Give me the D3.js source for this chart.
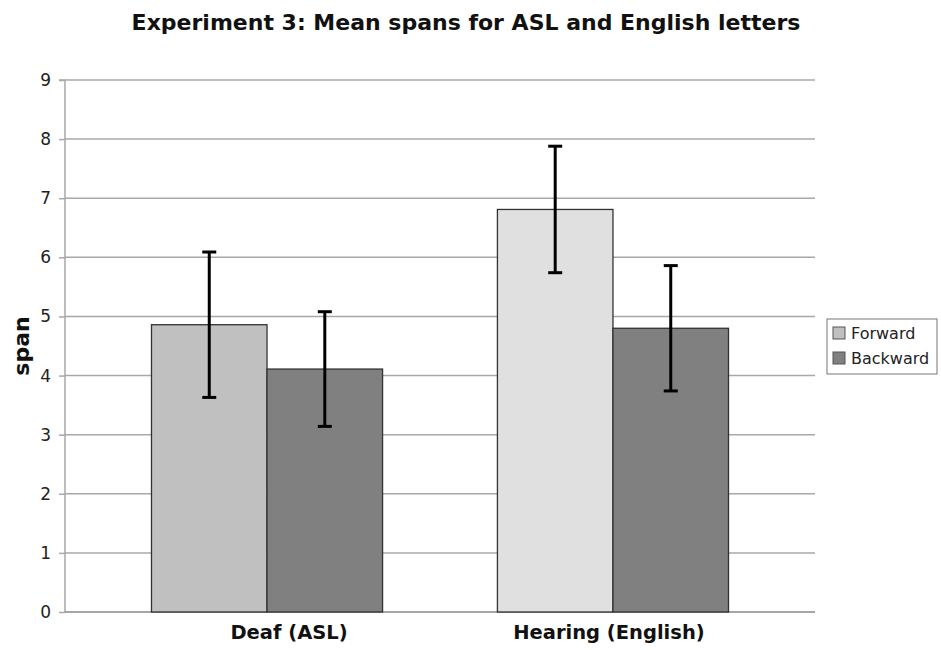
<!DOCTYPE html>
<html><head><meta charset="utf-8">
<script src="https://cdn.jsdelivr.net/npm/d3@7"></script>
<style>body{margin:0;background:#fff}svg{display:block}text{font-family:"DejaVu Sans",Verdana,sans-serif}</style>
</head><body><svg id="c" width="941" height="650"></svg>
<script>
const categories = ["Deaf (ASL)", "Hearing (English)"];
const seriesNames = ["Forward", "Backward"];
const forwardMeans = [4.86, 6.81];
const backwardMeans = [4.11, 4.80];
const forwardErr = [1.23, 1.07];
const backwardErr = [0.97, 1.06];
const yTicks = [0,1,2,3,4,5,6,7,8,9];
const barColors = [["#c0c0c0", "#808080"], ["#e0e0e0", "#808080"]];
const legendColors = ["#c0c0c0", "#808080"];

const svg = d3.select("#c");
const L = 65, R = 815, T = 80, B = 612;
const x = d3.scaleBand().domain(categories).range([L, R]).paddingInner(0.332).paddingOuter(0.25);
const xs = d3.scaleBand().domain(seriesNames).range([0, x.bandwidth()]);
const y = d3.scaleLinear().domain([0, 9]).range([B, T]);

// gridlines
svg.append("g").selectAll("line").data(yTicks.filter(d => d > 0)).join("line")
  .attr("x1", L).attr("x2", R).attr("y1", d => y(d)).attr("y2", d => y(d))
  .attr("stroke", "#a8a8a8").attr("stroke-width", 1.5);

// y axis
const ya = svg.append("g").attr("transform", `translate(${L},0)`)
  .call(d3.axisLeft(y).tickValues(yTicks).tickSize(6).tickPadding(8));
ya.select(".domain").attr("stroke", "#a8a8a8").attr("stroke-width", 1.5).attr("d", `M-6,${T}H0V${B}`);
ya.selectAll(".tick line").attr("stroke", "#a8a8a8").attr("stroke-width", 1.5);
ya.selectAll(".tick text").attr("font-size", 17).attr("fill", "#222").style("font-family", "DejaVu Sans, Verdana, sans-serif");

// baseline
svg.append("line").attr("x1", L).attr("x2", R).attr("y1", y(0)).attr("y2", y(0))
  .attr("stroke", "#888").attr("stroke-width", 1.5);

const rows = categories.map((c, i) => ({ c, i, vals: [
  { s: seriesNames[0], v: forwardMeans[i], e: forwardErr[i], col: barColors[i][0] },
  { s: seriesNames[1], v: backwardMeans[i], e: backwardErr[i], col: barColors[i][1] }
]}));

const g = svg.append("g").selectAll("g").data(rows).join("g")
  .attr("transform", d => `translate(${x(d.c)},0)`);
g.selectAll("rect").data(d => d.vals).join("rect")
  .attr("x", d => xs(d.s)).attr("width", xs.bandwidth())
  .attr("y", d => y(d.v)).attr("height", d => y(0) - y(d.v))
  .attr("fill", d => d.col).attr("stroke", "#333").attr("stroke-width", 1.3);

const eb = g.selectAll("g.eb").data(d => d.vals).join("g").attr("class", "eb")
  .attr("transform", d => `translate(${xs(d.s) + xs.bandwidth() / 2},0)`);
eb.append("line").attr("y1", d => y(d.v + d.e)).attr("y2", d => y(d.v - d.e))
  .attr("stroke", "#000").attr("stroke-width", 3);
eb.append("line").attr("x1", -7).attr("x2", 7).attr("y1", d => y(d.v + d.e)).attr("y2", d => y(d.v + d.e))
  .attr("stroke", "#000").attr("stroke-width", 3);
eb.append("line").attr("x1", -7).attr("x2", 7).attr("y1", d => y(d.v - d.e)).attr("y2", d => y(d.v - d.e))
  .attr("stroke", "#000").attr("stroke-width", 3);

// category labels
const labelShift = [22, -4];
svg.append("g").selectAll("text").data(categories).join("text")
  .attr("x", (d, i) => x(d) + x.bandwidth() / 2 + labelShift[i]).attr("y", 639)
  .attr("text-anchor", "middle").attr("font-size", 19.5).attr("font-weight", "bold").attr("fill", "#111")
  .text(d => d);

// title
svg.append("text").attr("x", 466).attr("y", 30).attr("text-anchor", "middle")
  .attr("font-size", 22).attr("font-weight", "bold").attr("fill", "#111")
  .text("Experiment 3: Mean spans for ASL and English letters");

// y label
svg.append("text").attr("transform", "translate(29,346) rotate(-90)").attr("text-anchor", "middle")
  .attr("font-size", 22).attr("font-weight", "bold").attr("fill", "#111").text("span");

// legend
const lg = svg.append("g").attr("transform", "translate(827,319)");
lg.append("rect").attr("width", 110).attr("height", 55).attr("fill", "#fff").attr("stroke", "#777").attr("stroke-width", 1);
const li = lg.selectAll("g").data(seriesNames).join("g").attr("transform", (d, i) => `translate(6,${14 + i * 25})`);
li.append("rect").attr("x", 0).attr("y", -6).attr("width", 12).attr("height", 12)
  .attr("fill", (d, i) => legendColors[i]).attr("stroke", "#555").attr("stroke-width", 1);
li.append("text").attr("x", 18).attr("y", 6).attr("font-size", 16).attr("fill", "#222").text(d => d);
</script></body></html>
